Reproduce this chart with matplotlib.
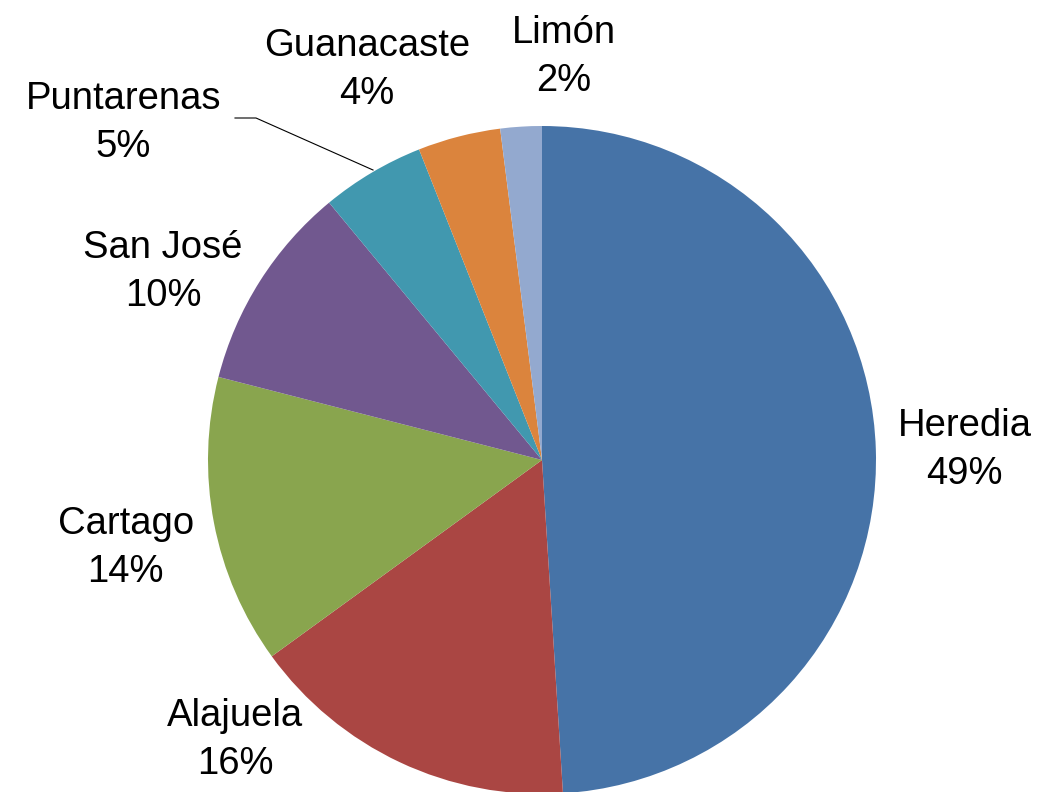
import matplotlib.pyplot as plt

# datos del gráfico
provincias = ["Heredia", "Alajuela", "Cartago", "San José", "Puntarenas", "Guanacaste", "Limón"]
porcentajes = [49, 16, 14, 10, 5, 4, 2]
colores = ["#4673A7", "#AA4643", "#89A54E", "#71588F", "#4198AF", "#DB843D", "#93A9CF"]

# posición de cada etiqueta (en radios, respecto al centro)
pos_etiquetas = [(1.266, 0.03), (-0.919, -0.838), (-1.246, -0.263), (-1.135, 0.563),
                 (-1.254, 1.009), (-0.524, 1.168), (0.066, 1.207)]

plt.rcParams['font.family'] = ['Liberation Sans', 'DejaVu Sans']

fig = plt.figure(figsize=(10.44, 7.92), dpi=100)
ax = fig.add_axes([0, 0, 1, 1])

centro = (542, 792 - 460)
radio = 334

ax.pie(porcentajes, colors=colores, startangle=90, counterclock=False,
       center=centro, radius=radio, wedgeprops=dict(linewidth=0))

for nombre, p, (dx, dy) in zip(provincias, porcentajes, pos_etiquetas):
    x = centro[0] + dx * radio
    y = centro[1] + dy * radio
    ax.text(x, y, f"{nombre}\n{p}%", ha='center', va='center', fontsize=27.5,
            linespacing=1.45, color='black')

# línea guía de Puntarenas
ax.plot([235, 256, 373], [792 - 118, 792 - 118, 792 - 170], color='black', linewidth=0.8)

ax.set_xlim(0, 1044)
ax.set_ylim(0, 792)
ax.set_aspect('auto')
ax.axis('off')

fig.savefig("out.png", dpi=100)
